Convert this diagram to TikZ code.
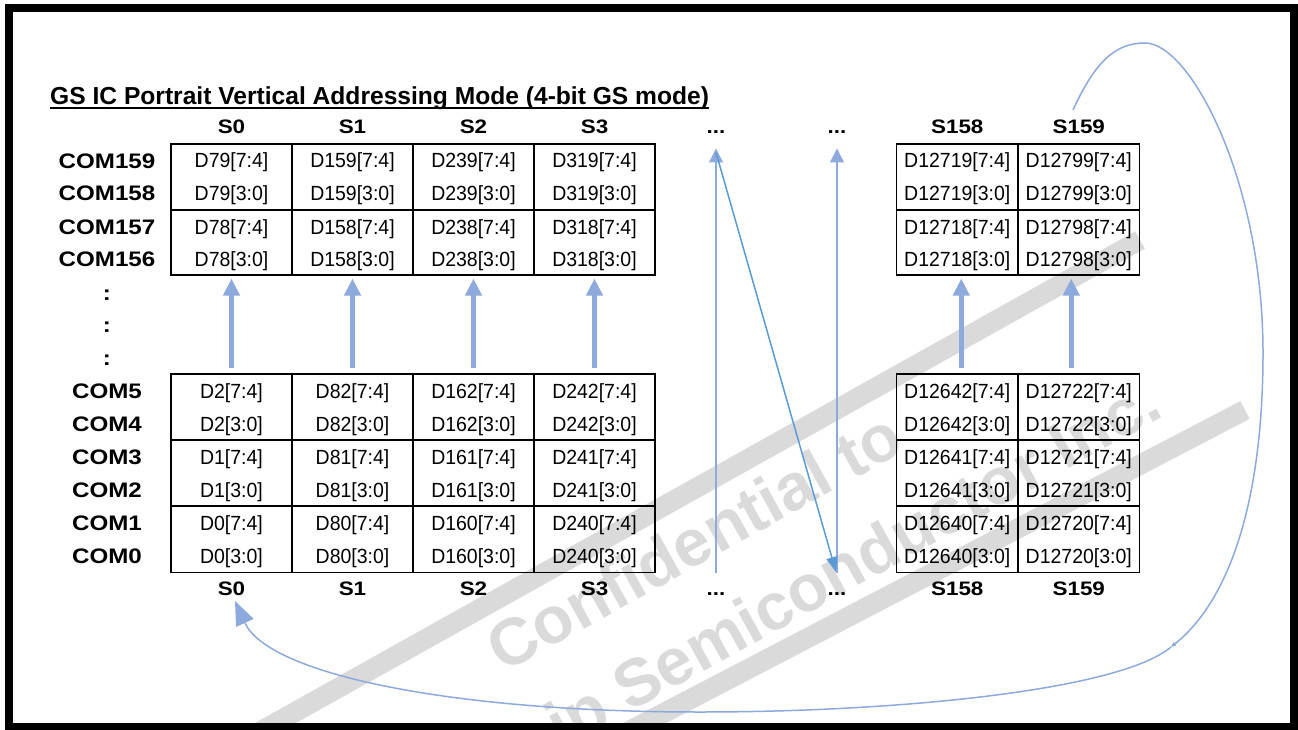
\documentclass[tikz,border=0pt]{standalone}
\usepackage{fontspec}
\setmainfont{Liberation Sans}
\newfontfamily\wideb{Liberation Sans}[FakeStretch=1.15]
\newfontfamily\narrowr{Liberation Sans}[FakeStretch=0.95]
\usetikzlibrary{arrows.meta}
\definecolor{lblue}{RGB}{142,169,219}
\definecolor{dblue}{RGB}{91,155,213}
\definecolor{wm}{RGB}{218,218,218}
\begin{document}
\begin{tikzpicture}[x=1pt,y=-1pt,
  cellblk/.style={draw=black, line width=1.8pt, minimum width=121pt, minimum height=65.75pt, inner sep=0pt, outer sep=0pt, anchor=north west},
  celltxt/.style={font=\narrowr\fontsize{20.5}{23}\selectfont, anchor=base, inner sep=0pt},
  slab/.style={font=\wideb\bfseries\fontsize{19.5}{22}\selectfont, anchor=base, inner sep=0pt},
  comlab/.style={font=\wideb\bfseries\fontsize{21}{24}\selectfont, anchor=base, inner sep=0pt},
  fat/.style={draw=lblue, line width=5pt, -{Triangle[length=17pt,width=16pt]}},
  thinarr/.style={draw=lblue, line width=1.3pt, -{Triangle[length=14pt,width=14pt]}},
  diagarr/.style={draw=dblue, line width=1.5pt, -{Triangle[length=15pt,width=11pt]}},
  loopline/.style={draw=lblue, line width=1.5pt},
  band/.style={draw=wm, line width=20pt},
  wmtext/.style={text=wm, font=\bfseries\fontsize{66}{70}\selectfont, rotate=29, anchor=base west, inner sep=0pt}
]
\useasboundingbox (0,0) rectangle (1298,730);

% watermark
\draw[band] (245,740) -- (1140,240);
\draw[band] (612,740) -- (1245,410);
\node[wmtext] (wm1) at (503,674) {Confidential to};
\node[wmtext] (wm2) at (562,750) {ip Semiconductor Inc.};

% title
\node[font=\bfseries\fontsize{24.6}{28}\selectfont, anchor=base west, inner sep=0pt] (title) at (50,104.7) {GS IC Portrait Vertical Addressing Mode (4-bit GS mode)};
\draw[line width=1.8pt] ([yshift=-3.5pt]title.base west) -- ([yshift=-3.5pt]title.base east);

% top left table
\foreach \i/\a/\b in {0/79/78,1/159/158,2/239/238,3/319/318} {
  \pgfmathsetmacro\xl{171+121*\i}
  \pgfmathsetmacro\xc{\xl+60.5}
  \node[cellblk] (tl-\i-1) at (\xl,144) {};
  \node[cellblk] (tl-\i-2) at (\xl,209.5) {};
  \node[celltxt] (tla-\i) at (\xc,168) {D\a[7:4]};
  \node[celltxt] (tlb-\i) at (\xc,200.6) {D\a[3:0]};
  \node[celltxt] (tlc-\i) at (\xc,234) {D\b[7:4]};
  \node[celltxt] (tld-\i) at (\xc,266.6) {D\b[3:0]};
}
% top right table
\foreach \i/\a/\b in {0/12719/12718,1/12799/12798} {
  \pgfmathsetmacro\xl{896.5+121.5*\i}
  \pgfmathsetmacro\xc{\xl+60.75}
  \node[cellblk, minimum width=121.5pt] (tr-\i-1) at (\xl,144) {};
  \node[cellblk, minimum width=121.5pt] (tr-\i-2) at (\xl,209.5) {};
  \node[celltxt] (tra-\i) at (\xc,168) {D\a[7:4]};
  \node[celltxt] (trb-\i) at (\xc,200.6) {D\a[3:0]};
  \node[celltxt] (trc-\i) at (\xc,234) {D\b[7:4]};
  \node[celltxt] (trd-\i) at (\xc,266.6) {D\b[3:0]};
}
% bottom left table
\foreach \i/\a/\b/\c in {0/2/1/0,1/82/81/80,2/162/161/160,3/242/241/240} {
  \pgfmathsetmacro\xl{171+121*\i}
  \pgfmathsetmacro\xc{\xl+60.5}
  \node[cellblk, minimum height=66.17pt] (bl-\i-1) at (\xl,374) {};
  \node[cellblk, minimum height=66.17pt] (bl-\i-2) at (\xl,440.17) {};
  \node[cellblk, minimum height=66.17pt] (bl-\i-3) at (\xl,506.33) {};
  \node[celltxt] (bla-\i) at (\xc,398) {D\a[7:4]};
  \node[celltxt] (blb-\i) at (\xc,431.3) {D\a[3:0]};
  \node[celltxt] (blc-\i) at (\xc,464) {D\b[7:4]};
  \node[celltxt] (bld-\i) at (\xc,497.3) {D\b[3:0]};
  \node[celltxt] (ble-\i) at (\xc,530) {D\c[7:4]};
  \node[celltxt] (blf-\i) at (\xc,563.3) {D\c[3:0]};
}
% bottom right table
\foreach \i/\a/\b/\c in {0/12642/12641/12640,1/12722/12721/12720} {
  \pgfmathsetmacro\xl{896.5+121.5*\i}
  \pgfmathsetmacro\xc{\xl+60.75}
  \node[cellblk, minimum width=121.5pt, minimum height=66.17pt] (br-\i-1) at (\xl,374) {};
  \node[cellblk, minimum width=121.5pt, minimum height=66.17pt] (br-\i-2) at (\xl,440.17) {};
  \node[cellblk, minimum width=121.5pt, minimum height=66.17pt] (br-\i-3) at (\xl,506.33) {};
  \node[celltxt] (bra-\i) at (\xc,398) {D\a[7:4]};
  \node[celltxt] (brb-\i) at (\xc,431.3) {D\a[3:0]};
  \node[celltxt] (brc-\i) at (\xc,464) {D\b[7:4]};
  \node[celltxt] (brd-\i) at (\xc,497.3) {D\b[3:0]};
  \node[celltxt] (bre-\i) at (\xc,530) {D\c[7:4]};
  \node[celltxt] (brf-\i) at (\xc,563.3) {D\c[3:0]};
}

% column labels
\foreach \t/\x [count=\k] in {S0/231.5,S1/352.5,S2/473.5,S3/594.5,S158/957.25,S159/1078.75} {
  \node[slab] (st-\k) at (\x,133.7) {\t};
  \node[slab] (sb-\k) at (\x,595.3) {\t};
}
\node[slab] (std-1) at (716,133.7) {...};
\node[slab] (std-2) at (837,133.7) {...};
\node[slab] (sbd-1) at (716,595.3) {...};
\node[slab] (sbd-2) at (837,595.3) {...};

% COM labels
\foreach \t/\y [count=\k] in {COM159/168.2,COM158/200.8,COM157/234.2,COM156/266.8,COM5/398.2,COM4/431.5,COM3/464.2,COM2/497.5,COM1/530.2,COM0/563.5} {
  \node[comlab] (com-\k) at (107,\y) {\t};
}
\node[comlab] (col-1) at (107,300) {:};
\node[comlab] (col-2) at (107,332) {:};
\node[comlab] (col-3) at (107,365) {:};

% thick arrows
\foreach \i in {0,1,2,3} {
  \draw[fat] ([yshift=6pt]bl-\i-1.north) -- ([yshift=-3.3pt]tl-\i-2.south);
}
\draw[fat] ([xshift=4pt,yshift=6pt]br-0-1.north) -- ([xshift=4pt,yshift=-3.3pt]tr-0-2.south);
\draw[fat] ([xshift=-7.5pt,yshift=6pt]br-1-1.north) -- ([xshift=-7.5pt,yshift=-3.3pt]tr-1-2.south);

% thin arrows
\coordinate (v1b) at (716,573);
\coordinate (v1t) at (716,148.5);
\coordinate (v2b) at (837,573);
\coordinate (v2t) at (837,148.5);
\draw[thinarr] (v1b) -- (v1t);
\draw[thinarr] (v2b) -- (v2t);
\draw[diagarr] ([yshift=-4pt]v1t) -- ([xshift=-1pt,yshift=1pt]v2b);

% loop back curve
\coordinate (c0) at (1073,110);
\coordinate (ctick) at (1171,647);
\coordinate (s0tip) at (235,601);
\draw[loopline, -{Triangle[length=5pt,width=4pt]}] (c0) .. controls (1095,62) and (1115,43) .. (1145,43)
  .. controls (1190,43) and (1263,180) .. (1263,353)
  .. controls (1263,500) and (1230,600) .. (ctick);
\draw[loopline, -{Triangle[length=24pt,width=19pt]}] (ctick) .. controls (1120,690) and (900,712) .. (700,712)
  .. controls (450,712) and (268,674) .. (s0tip);

% frame
\draw[line width=8pt] (8.5,8) rectangle (1294,727);
\end{tikzpicture}
\end{document}
